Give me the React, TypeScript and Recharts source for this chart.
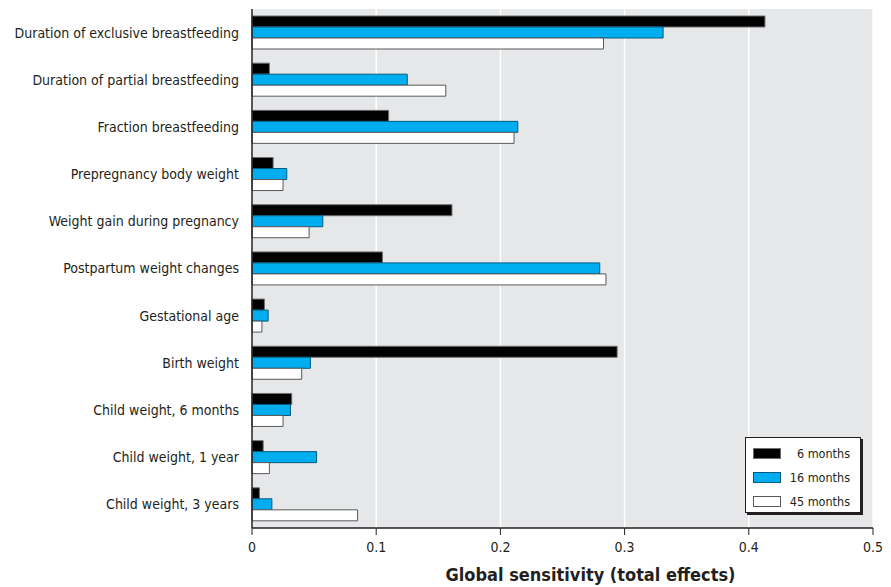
import React from "react"
import { Bar, BarChart, XAxis, YAxis, CartesianGrid } from "recharts"

const categories = [
  "Duration of exclusive breastfeeding",
  "Duration of partial breastfeeding",
  "Fraction breastfeeding",
  "Prepregnancy body weight",
  "Weight gain during pregnancy",
  "Postpartum weight changes",
  "Gestational age",
  "Birth weight",
  "Child weight, 6 months",
  "Child weight, 1 year",
  "Child weight, 3 years",
]
const sixMonths = [0.413, 0.014, 0.11, 0.017, 0.161, 0.105, 0.01, 0.294, 0.032, 0.009, 0.006]
const sixteenMonths = [0.331, 0.125, 0.214, 0.028, 0.057, 0.28, 0.013, 0.047, 0.031, 0.052, 0.016]
const fortyFiveMonths = [0.283, 0.156, 0.211, 0.025, 0.046, 0.285, 0.008, 0.04, 0.025, 0.014, 0.085]
const xTicks = [0, 0.1, 0.2, 0.3, 0.4, 0.5]

const series = [
  { key: "m6", name: "6 months", fill: "#000000", stroke: "#6d6e70" },
  { key: "m16", name: "16 months", fill: "#00aeef", stroke: "#005a80" },
  { key: "m45", name: "45 months", fill: "#ffffff", stroke: "#58595b" },
]

const data = categories.map((name, i) => ({
  name,
  m6: sixMonths[i],
  m16: sixteenMonths[i],
  m45: fortyFiveMonths[i],
}))

const FONT = "'Liberation Sans Narrow', 'DejaVu Sans Condensed', sans-serif"

function LegendBox() {
  return (
    <div
      style={{
        position: "absolute",
        left: 745,
        top: 437,
        width: 116,
        height: 76,
        background: "#fff",
        border: "1px solid #231f20",
        boxShadow: "2px 2px 0 #231f20",
        fontFamily: FONT,
        fontSize: 12.5,
        color: "#231f20",
        padding: "3px 0",
        boxSizing: "border-box",
      }}
    >
      {series.map((s) => (
        <div
          key={s.key}
          style={{ display: "flex", alignItems: "center", height: 24, paddingLeft: 7, paddingRight: 10 }}
        >
          <span
            style={{
              display: "inline-block",
              flex: "none",
              width: 26,
              height: 9,
              background: s.fill,
              border: `1px solid ${s.stroke}`,
            }}
          />
          <span style={{ flex: 1, textAlign: "right", whiteSpace: "nowrap" }}>{s.name}</span>
        </div>
      ))}
    </div>
  )
}

export default function App() {
  return (
    <div style={{ position: "absolute", left: 0, top: 0, width: 891, height: 587, background: "#fff" }}>
      <BarChart
        width={891}
        height={587}
        data={data}
        layout="vertical"
        margin={{ top: 9, right: 18, left: 0, bottom: 0 }}
        barSize={11}
        barGap={0}
        barCategoryGap={7}
      >
        <CartesianGrid horizontal={false} fill="#e6e7e8" stroke="#ffffff" strokeWidth={1.5} />
        <XAxis
          type="number"
          domain={[0, 0.5]}
          ticks={xTicks}
          tickFormatter={(v: number) => String(v)}
          height={59}
          axisLine={{ stroke: "#231f20", strokeWidth: 1.5 }}
          tickLine={{ stroke: "#231f20" }}
          tickSize={7}
          tickMargin={7}
          tick={{ fill: "#231f20", fontSize: 14, fontFamily: FONT }}
          label={(props: any) => {
            const vb = props.viewBox
            return (
              <text
                x={vb.x + vb.width / 2 + 28}
                y={vb.y + vb.height - 6}
                textAnchor="middle"
                fontFamily={FONT}
                fontWeight="bold"
                fontSize={18}
                fill="#231f20"
              >
                Global sensitivity (total effects)
              </text>
            )
          }}
        />
        <YAxis
          type="category"
          dataKey="name"
          width={252}
          axisLine={{ stroke: "#231f20", strokeWidth: 1.5 }}
          tickLine={false}
          tickSize={6}
          tickMargin={7}
          interval={0}
          tick={{ fill: "#231f20", fontSize: 14, fontFamily: FONT }}
        />
        {series.map((s) => (
          <Bar
            key={s.key}
            dataKey={s.key}
            name={s.name}
            fill={s.fill}
            stroke={s.stroke}
            strokeWidth={1}
            isAnimationActive={false}
          />
        ))}
      </BarChart>
      <LegendBox />
    </div>
  )
}
